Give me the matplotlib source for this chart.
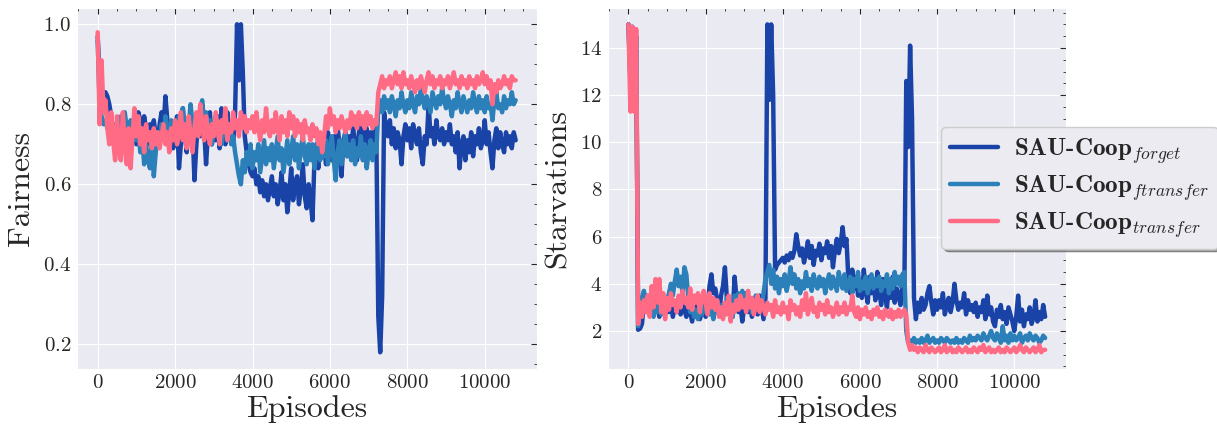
import numpy as np
import matplotlib
matplotlib.use('Agg')
import matplotlib.pyplot as plt
import seaborn as sns

# episodes sampled every 50
episodes = list(range(0, 10801, 50))

labels = [r'SAU-Coop$_{forget}$', r'SAU-Coop$_{ftransfer}$', r'SAU-Coop$_{transfer}$']
colors = ['#1a43a8', '#2b80b9', '#ff6b84']

# Fairness
fair_forget = [
    0.97, 0.86, 0.80, 0.83, 0.83, 0.82, 0.80, 0.77, 0.72, 0.75,
    0.70, 0.76, 0.72, 0.77, 0.70, 0.74, 0.69, 0.73, 0.71, 0.75,
    0.70, 0.78, 0.76, 0.72, 0.77, 0.74, 0.70, 0.75, 0.73, 0.76,
    0.72, 0.70, 0.75, 0.78, 0.74, 0.82, 0.76, 0.71, 0.74, 0.69,
    0.72, 0.77, 0.64, 0.70, 0.79, 0.73, 0.68, 0.75, 0.71, 0.74,
    0.61, 0.70, 0.76, 0.72, 0.80, 0.74, 0.65, 0.73, 0.78, 0.70,
    0.74, 0.71, 0.77, 0.69, 0.79, 0.73, 0.70, 0.78, 0.72, 0.75,
    0.70, 0.78, 1.00, 0.86, 1.00, 0.88, 0.72, 0.68, 0.65, 0.63,
    0.62, 0.64, 0.60, 0.62, 0.58, 0.61, 0.57, 0.60, 0.56, 0.59,
    0.62, 0.57, 0.60, 0.55, 0.58, 0.63, 0.56, 0.60, 0.53, 0.58,
    0.64, 0.56, 0.60, 0.62, 0.55, 0.59, 0.65, 0.57, 0.54, 0.60,
    0.56, 0.51, 0.66, 0.70, 0.64, 0.72, 0.67, 0.70, 0.65, 0.73,
    0.69, 0.66, 0.72, 0.68, 0.74, 0.70, 0.62, 0.71, 0.73, 0.67,
    0.72, 0.69, 0.74, 0.70, 0.66, 0.73, 0.75, 0.71, 0.68, 0.74,
    0.70, 0.73, 0.68, 0.74, 0.72, 0.27, 0.18, 0.32, 0.78, 0.74,
    0.72, 0.76, 0.70, 0.74, 0.69, 0.73, 0.71, 0.65, 0.72, 0.75,
    0.71, 0.74, 0.69, 0.75, 0.72, 0.70, 0.74, 0.68, 0.65, 0.72,
    0.70, 0.80, 0.72, 0.74, 0.70, 0.76, 0.72, 0.71, 0.74, 0.70,
    0.73, 0.71, 0.75, 0.70, 0.72, 0.68, 0.73, 0.64, 0.70, 0.72,
    0.66, 0.71, 0.68, 0.73, 0.67, 0.72, 0.70, 0.74, 0.69, 0.71,
    0.76, 0.70, 0.73, 0.68, 0.64, 0.71, 0.74, 0.69, 0.73, 0.70,
    0.68, 0.73, 0.70, 0.72, 0.69, 0.73, 0.71]
fair_ftransfer = [
    0.96, 0.80, 0.77, 0.75, 0.76, 0.74, 0.77, 0.73, 0.75, 0.71,
    0.74, 0.70, 0.77, 0.72, 0.78, 0.74, 0.70, 0.76, 0.72, 0.75,
    0.71, 0.74, 0.68, 0.72, 0.65, 0.70, 0.66, 0.64, 0.71, 0.62,
    0.68, 0.73, 0.70, 0.75, 0.72, 0.77, 0.74, 0.70, 0.76, 0.73,
    0.75, 0.70, 0.77, 0.73, 0.79, 0.72, 0.76, 0.74, 0.80, 0.75,
    0.72, 0.77, 0.74, 0.79, 0.81, 0.75, 0.78, 0.72, 0.76, 0.70,
    0.74, 0.77, 0.72, 0.75, 0.70, 0.73, 0.78, 0.71, 0.74, 0.70,
    0.72, 0.68, 0.65, 0.62, 0.60, 0.66, 0.63, 0.68, 0.65, 0.70,
    0.64, 0.68, 0.66, 0.70, 0.63, 0.67, 0.71, 0.65, 0.69, 0.66,
    0.70, 0.64, 0.68, 0.72, 0.66, 0.69, 0.63, 0.67, 0.71, 0.65,
    0.68, 0.72, 0.66, 0.70, 0.64, 0.69, 0.72, 0.67, 0.65, 0.70,
    0.66, 0.70, 0.64, 0.68, 0.72, 0.66, 0.70, 0.67, 0.71, 0.65,
    0.69, 0.72, 0.66, 0.61, 0.68, 0.71, 0.65, 0.69, 0.73, 0.67,
    0.70, 0.66, 0.71, 0.65, 0.69, 0.67, 0.72, 0.66, 0.70, 0.64,
    0.68, 0.71, 0.66, 0.70, 0.68, 0.79, 0.81, 0.78, 0.82, 0.79,
    0.81, 0.78, 0.82, 0.80, 0.77, 0.81, 0.79, 0.83, 0.80, 0.78,
    0.81, 0.79, 0.83, 0.80, 0.78, 0.82, 0.80, 0.84, 0.81, 0.79,
    0.82, 0.80, 0.78, 0.83, 0.81, 0.79, 0.82, 0.80, 0.84, 0.81,
    0.79, 0.82, 0.80, 0.77, 0.81, 0.79, 0.83, 0.80, 0.78, 0.82,
    0.80, 0.78, 0.81, 0.79, 0.83, 0.80, 0.78, 0.82, 0.79, 0.81,
    0.78, 0.82, 0.79, 0.80, 0.76, 0.81, 0.83, 0.79, 0.80, 0.78,
    0.82, 0.79, 0.81, 0.80, 0.83, 0.80, 0.81]
fair_transfer = [
    0.98, 0.75, 0.91, 0.78, 0.81, 0.74, 0.70, 0.78, 0.71, 0.66,
    0.77, 0.68, 0.66, 0.78, 0.70, 0.65, 0.74, 0.64, 0.72, 0.79,
    0.72, 0.77, 0.70, 0.74, 0.68, 0.75, 0.71, 0.73, 0.69, 0.74,
    0.70, 0.73, 0.69, 0.72, 0.75, 0.70, 0.73, 0.68, 0.74, 0.71,
    0.76, 0.70, 0.73, 0.78, 0.71, 0.75, 0.69, 0.77, 0.72, 0.68,
    0.74, 0.78, 0.72, 0.80, 0.75, 0.71, 0.77, 0.73, 0.70, 0.75,
    0.72, 0.78, 0.74, 0.70, 0.76, 0.73, 0.79, 0.71, 0.75, 0.73,
    0.78, 0.74, 0.76, 0.72, 0.78, 0.74, 0.77, 0.73, 0.76, 0.74,
    0.77, 0.73, 0.78, 0.74, 0.71, 0.76, 0.73, 0.79, 0.74, 0.72,
    0.76, 0.73, 0.78, 0.74, 0.71, 0.77, 0.73, 0.76, 0.72, 0.78,
    0.74, 0.77, 0.72, 0.76, 0.73, 0.75, 0.71, 0.76, 0.73, 0.74,
    0.71, 0.75, 0.72, 0.74, 0.70, 0.73, 0.68, 0.72, 0.77, 0.74,
    0.79, 0.75, 0.77, 0.73, 0.76, 0.74, 0.77, 0.75, 0.73, 0.76,
    0.74, 0.78, 0.75, 0.77, 0.74, 0.78, 0.75, 0.77, 0.74, 0.78,
    0.75, 0.77, 0.74, 0.76, 0.75, 0.83, 0.85, 0.87, 0.84, 0.86,
    0.85, 0.87, 0.84, 0.86, 0.88, 0.85, 0.87, 0.84, 0.88, 0.85,
    0.86, 0.84, 0.87, 0.85, 0.83, 0.86, 0.84, 0.87, 0.85, 0.83,
    0.86, 0.88, 0.85, 0.87, 0.84, 0.86, 0.85, 0.87, 0.84, 0.86,
    0.85, 0.87, 0.84, 0.86, 0.88, 0.85, 0.86, 0.84, 0.87, 0.85,
    0.86, 0.84, 0.87, 0.85, 0.86, 0.84, 0.87, 0.85, 0.86, 0.88,
    0.85, 0.87, 0.84, 0.86, 0.80, 0.85, 0.83, 0.86, 0.84, 0.85,
    0.87, 0.85, 0.86, 0.84, 0.87, 0.86, 0.86]

# Starvations
starv_forget = [
    15.0, 12.5, 14.9, 12.3, 14.5, 2.05, 2.1, 2.3, 3.2, 2.8,
    3.3, 2.7, 3.5, 2.9, 3.8, 3.1, 2.6, 3.4, 3.0, 2.7,
    3.2, 2.8, 3.5, 2.6, 3.0, 2.8, 3.3, 2.7, 3.1, 2.9,
    2.6, 3.2, 2.8, 2.4, 3.0, 2.7, 3.3, 2.5, 2.8, 3.1,
    2.6, 3.0, 3.9, 4.4, 3.6, 3.8, 3.3, 2.7, 3.5, 3.9,
    4.7, 3.4, 2.9, 3.2, 2.6, 4.3, 3.4, 2.8, 3.1, 2.4,
    3.0, 3.6, 2.8, 3.3, 2.6, 3.1, 3.4, 2.7, 3.5, 3.0,
    2.5, 3.4, 15.0, 11.8, 15.0, 12.0, 4.6, 4.8, 4.9, 5.0,
    5.1, 4.9, 5.2, 5.0, 5.3, 5.1, 5.4, 6.1, 5.6, 5.2,
    5.5, 4.9, 5.3, 5.8, 5.1, 5.6, 4.8, 5.4, 5.2, 5.7,
    5.0, 5.5, 5.3, 5.8, 5.1, 5.6, 4.7, 5.4, 5.9, 5.3,
    5.7, 6.4, 5.6, 5.9, 4.2, 3.6, 4.6, 3.8, 4.3, 3.5,
    4.1, 3.4, 4.6, 3.7, 3.2, 4.3, 3.6, 4.1, 3.3, 4.5,
    3.7, 3.1, 4.2, 3.5, 3.0, 3.9, 3.4, 4.3, 3.2, 3.8,
    3.5, 3.1, 4.0, 3.6, 12.6, 9.8, 14.1, 11.0, 3.4, 2.5,
    3.2, 2.8, 3.4, 2.9, 3.1, 3.6, 3.9, 3.2, 2.7, 3.3,
    2.9, 3.3, 3.0, 3.6, 2.7, 3.1, 3.4, 2.8, 3.2, 4.0,
    3.3, 2.9, 3.2, 3.0, 3.6, 2.7, 3.3, 2.9, 3.1, 2.8,
    3.2, 2.6, 3.0, 2.8, 3.3, 2.5, 3.5, 2.7, 3.0, 2.4,
    2.2, 2.9, 2.6, 3.1, 2.5, 2.8, 2.3, 3.0, 2.7, 2.4,
    2.0, 2.6, 3.5, 2.4, 2.9, 2.2, 2.7, 2.5, 3.0, 2.3,
    2.6, 3.3, 2.4, 2.8, 2.5, 3.1, 2.6]
starv_ftransfer = [
    15.0, 12.8, 14.8, 12.5, 14.4, 2.2, 2.9, 3.4, 3.7, 3.2,
    3.5, 2.9, 3.3, 2.6, 3.0, 2.8, 3.2, 2.7, 3.4, 3.0,
    3.3, 3.6, 4.0, 3.5, 4.1, 4.6, 3.9, 4.3, 3.6, 4.7,
    4.4, 3.4, 2.8, 3.1, 2.6, 2.9, 2.5, 3.0, 2.7, 3.3,
    2.8, 3.2, 2.7, 3.0, 2.5, 2.9, 3.3, 2.7, 3.1, 2.6,
    3.0, 3.4, 2.8, 3.2, 2.6, 3.5, 2.9, 3.6, 3.1, 3.7,
    3.3, 3.6, 3.0, 3.4, 2.8, 3.2, 3.5, 2.9, 3.3, 3.0,
    3.6, 4.2, 4.5, 4.8, 4.0, 4.6, 3.8, 4.3, 3.6, 4.2,
    3.9, 4.4, 3.7, 4.1, 4.7, 4.0, 4.4, 3.8, 4.2, 3.6,
    4.1, 3.8, 4.5, 3.9, 4.2, 3.7, 4.4, 4.0, 3.8, 4.3,
    3.9, 4.2, 3.6, 4.1, 4.4, 3.8, 4.3, 4.0, 3.7, 4.5,
    4.1, 3.8, 4.4, 3.7, 4.0, 4.3, 3.6, 4.2, 3.9, 4.5,
    3.7, 4.1, 3.8, 4.3, 3.6, 4.0, 4.4, 3.8, 4.2, 3.9,
    4.3, 3.7, 4.1, 3.9, 4.4, 3.6, 4.2, 3.8, 4.5, 4.0,
    4.3, 3.9, 4.4, 4.5, 2.0, 1.5, 1.6, 1.5, 1.7, 1.5,
    1.6, 1.5, 1.7, 1.5, 1.6, 1.8, 1.5, 1.6, 1.7, 1.5,
    1.6, 1.5, 1.7, 1.6, 1.5, 1.7, 1.6, 1.5, 1.6, 1.5,
    1.7, 1.5, 1.6, 1.5, 1.7, 1.6, 1.5, 1.8, 1.6, 1.7,
    1.6, 1.8, 1.7, 1.6, 1.9, 1.7, 1.6, 1.8, 2.0, 1.7,
    1.6, 1.9, 1.7, 1.5, 2.2, 1.6, 1.8, 1.5, 1.9, 1.6,
    1.8, 1.6, 1.7, 1.9, 1.5, 1.7, 1.8, 1.6, 1.9, 1.7,
    1.6, 1.8, 1.7, 1.5, 1.6, 1.8, 1.7]
starv_transfer = [
    15.0, 11.3, 14.9, 11.3, 14.8, 2.3, 3.2, 2.6, 3.3, 2.8,
    3.5, 2.6, 3.9, 3.0, 4.2, 3.2, 4.2, 2.8, 3.6, 2.5,
    3.4, 2.9, 3.6, 3.1, 3.3, 2.8, 3.5, 3.0, 3.7, 3.2,
    3.4, 3.0, 3.8, 2.9, 3.5, 3.2, 3.6, 2.8, 3.4, 3.7,
    3.2, 2.7, 3.6, 3.0, 3.4, 2.9, 3.3, 2.6, 3.0, 2.5,
    3.2, 2.7, 3.5, 2.4, 3.1, 2.8, 3.3, 2.9, 3.5, 3.0,
    3.3, 2.8, 3.7, 3.0, 3.4, 2.7, 3.2, 3.5, 2.8, 3.3,
    3.0, 2.7, 3.2, 2.9, 3.1, 2.6, 3.3, 2.8, 3.0, 2.7,
    3.2, 2.8, 3.0, 2.5, 3.3, 2.9, 3.1, 2.7, 3.0, 2.6,
    3.3, 2.9, 3.6, 2.7, 3.1, 3.4, 2.8, 3.0, 2.6, 3.2,
    2.9, 3.1, 2.7, 3.3, 2.8, 3.0, 2.6, 2.9, 3.2, 2.7,
    3.0, 2.8, 3.2, 2.7, 3.0, 2.9, 3.5, 2.8, 2.6, 3.0,
    2.5, 2.9, 2.7, 3.0, 2.6, 2.8, 2.5, 2.9, 2.7, 3.0,
    2.6, 2.8, 2.5, 2.9, 2.7, 2.6, 2.9, 2.5, 2.8, 2.6,
    2.9, 2.6, 2.8, 2.9, 2.7, 1.5, 1.2, 1.4, 1.2, 1.3,
    1.1, 1.3, 1.2, 1.1, 1.4, 1.2, 1.1, 1.3, 1.2, 1.1,
    1.2, 1.3, 1.1, 1.2, 1.4, 1.1, 1.2, 1.3, 1.1, 1.2,
    1.1, 1.3, 1.2, 1.1, 1.2, 1.3, 1.1, 1.2, 1.1, 1.3,
    1.2, 1.1, 1.3, 1.2, 1.4, 1.1, 1.2, 1.3, 1.1, 1.2,
    1.1, 1.2, 1.3, 1.1, 1.2, 1.1, 1.3, 1.2, 1.1, 1.2,
    1.3, 1.1, 1.2, 1.4, 1.2, 1.1, 1.3, 1.2, 1.1, 1.2,
    1.3, 1.1, 1.2, 1.4, 1.1, 1.2, 1.2]

sns.set_style('darkgrid')
plt.rcParams['font.family'] = 'serif'
plt.rcParams['font.serif'] = ['cmr10']
plt.rcParams['mathtext.fontset'] = 'cm'
plt.rcParams['axes.unicode_minus'] = False
plt.rcParams['axes.formatter.use_mathtext'] = True

fig = plt.figure(figsize=(12.17, 4.28), dpi=100)
ax1 = fig.add_axes([0.0631, 0.1386, 0.3778, 0.843])
ax2 = fig.add_axes([0.4993, 0.1386, 0.3766, 0.843])

for ys, c, lab in zip([fair_forget, fair_ftransfer, fair_transfer], colors, labels):
    ax1.plot(episodes, ys, color=c, lw=3.2, label=lab)
for ys, c, lab in zip([starv_forget, starv_ftransfer, starv_transfer], colors, labels):
    ax2.plot(episodes, ys, color=c, lw=3.2, label=lab)

ax1.set_xlim(-540, 11340)
ax1.set_ylim(0.139, 1.041)
ax1.set_yticks([0.2, 0.4, 0.6, 0.8, 1.0])
ax2.set_xlim(-540, 11340)
ax2.set_ylim(0.4, 15.7)
ax2.set_yticks([2, 4, 6, 8, 10, 12, 14])

for ax, yl, ymin in [(ax1, 'Fairness', 0.05), (ax2, 'Starvations', 0.5)]:
    ax.set_xticks([0, 2000, 4000, 6000, 8000, 10000])
    ax.xaxis.set_minor_locator(matplotlib.ticker.MultipleLocator(500))
    ax.yaxis.set_minor_locator(matplotlib.ticker.MultipleLocator(ymin))
    ax.tick_params(axis='both', which='both', labelsize=15, colors='#262626',
                   top=True, right=True, bottom=False, left=False,
                   direction='in', pad=4)
    ax.tick_params(which='major', length=4, width=0.8)
    ax.tick_params(which='minor', length=2, width=0.6)
    ax.grid(which='minor', visible=False)
    ax.set_xlabel('Episodes', fontsize=23, labelpad=2)
    ax.set_ylabel(yl, fontsize=23, labelpad=6)

fig.legend(*ax2.get_legend_handles_labels(), loc='upper left',
           bbox_to_anchor=(0.7735, 0.703), prop={'family': 'cmb10', 'size': 18},
           shadow=True, frameon=True, fancybox=True, facecolor='#ebebf1',
           edgecolor='#cccccc', framealpha=1.0, handlelength=1.9,
           handletextpad=0.65, borderpad=0.35, labelspacing=0.3,
           borderaxespad=0.0)

fig.savefig('out.png', dpi=100)
